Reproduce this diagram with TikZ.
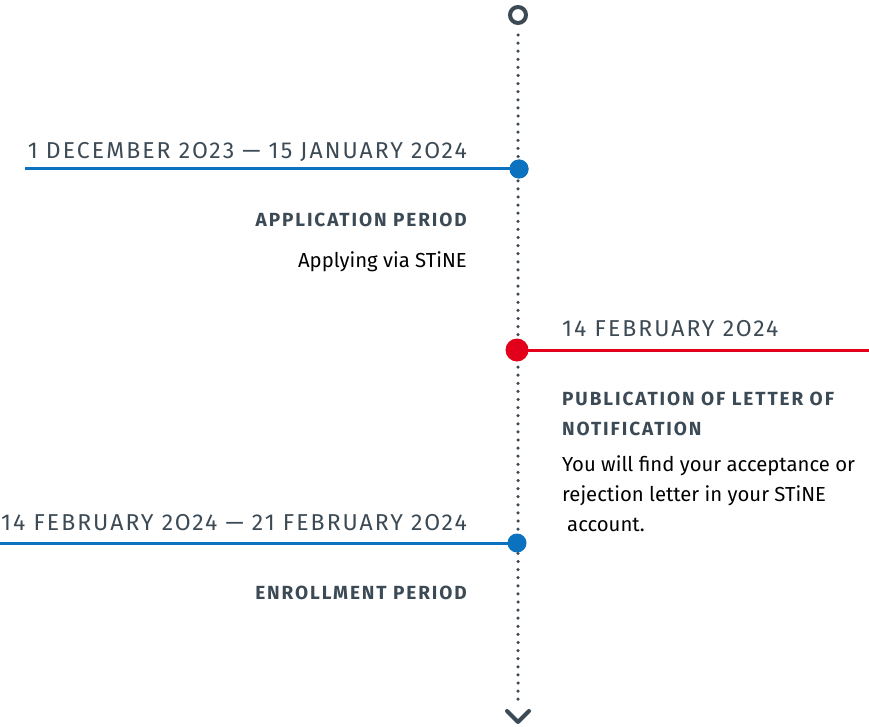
\documentclass[tikz,border=0pt]{standalone}
\usepackage{fontspec}
\setmainfont{Fira Sans}
\newfontfamily\datefont[LetterSpace=9]{Fira Sans}
\newfontfamily\headfont[LetterSpace=10]{Fira Sans}
\definecolor{slate}{HTML}{3C4A55}
\definecolor{uhblue}{HTML}{0B72BF}
\definecolor{uhred}{HTML}{E2001A}
\begin{document}
\begin{tikzpicture}[x=1pt,y=-1pt,
  datelabel/.style={inner sep=0pt,text=slate,font=\datefont\fontsize{23}{25}\selectfont},
  headlabel/.style={inner sep=0pt,text=slate,font=\headfont\bfseries\fontsize{19}{30}\selectfont},
  bodylabel/.style={inner sep=0pt,text=black,font=\fontsize{20.3}{30}\selectfont},
  eventdot/.style={circle,inner sep=0pt,minimum size=#1},
  hline/.style={line width=3pt}]
\useasboundingbox (0,0) rectangle (869,727);
% timeline
\node[circle,draw=slate,line width=4pt,minimum size=16pt,inner sep=0pt] (start) at (518,15) {};
\coordinate (end) at (518,722);
\draw[slate,line width=3.5pt,line cap=round,dash pattern=on 0pt off 8.1pt] (start.south) ++(0,10) -- (518,700);
\draw[slate,line width=4pt,line cap=round,line join=round] (507,711) -- (end) -- (529,711);
% event 1
\node[eventdot=19pt,fill=uhblue] (d1) at (519,169) {};
\coordinate (l1) at (25,169);
\draw[hline,uhblue] (l1) -- (d1.center);
\node[eventdot=19pt,fill=uhblue] at (519,169) {};
\node[datelabel,anchor=base east] (t1) at (467,159) {1 DECEMBER 2O23 — 15 JANUARY 2O24};
\node[headlabel,anchor=base east] (h1) at (467,227) {APPLICATION PERIOD};
\node[bodylabel,anchor=base east] (b1) at (467,267) {Applying via STiNE};
% event 2
\coordinate (l2) at (869,350);
\draw[hline,uhred] (517,350) -- (l2);
\node[eventdot=23pt,fill=uhred] (d2) at (517,350) {};
\node[datelabel,anchor=base west] (t2) at (562,336) {14 FEBRUARY 2O24};
\node[headlabel,anchor=base west] (h2a) at (562,405) {PUBLICATION OF LETTER OF};
\node[headlabel,anchor=base west] (h2b) at (562,435) {NOTIFICATION};
\node[bodylabel,anchor=base west] (b2a) at (562,471) {You will find your acceptance or};
\node[bodylabel,anchor=base west] (b2b) at (562,501) {rejection letter in your STiNE};
\node[bodylabel,anchor=base west] (b2c) at (567,531) {account.};
% event 3
\coordinate (l3) at (0,543);
\draw[hline,uhblue] (l3) -- (517,543);
\node[eventdot=19pt,fill=uhblue] (d3) at (517,543) {};
\node[datelabel,anchor=base east] (t3) at (467,530) {14 FEBRUARY 2O24 — 21 FEBRUARY 2O24};
\node[headlabel,anchor=base east] (h3) at (467,599) {ENROLLMENT PERIOD};
\end{tikzpicture}
\end{document}
